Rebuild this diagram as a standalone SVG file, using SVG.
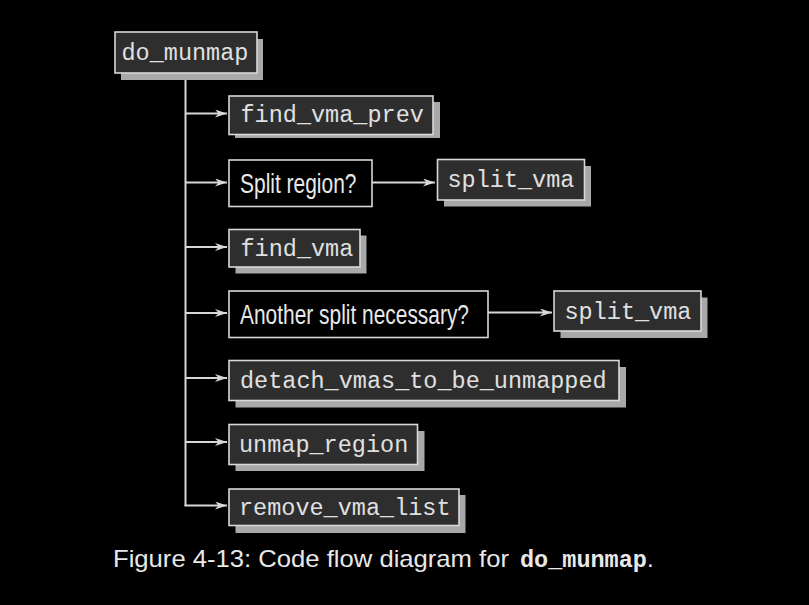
<svg xmlns="http://www.w3.org/2000/svg" width="809" height="605" viewBox="0 0 809 605">
<style>
.shadow{fill:#a8a8a8}
.box{fill:#2e2e2e;stroke:#d8d8d8;stroke-width:1.6}
.q{fill:#000;stroke:#d8d8d8;stroke-width:1.6}
.mono{font-family:"Liberation Mono","Courier New",monospace;font-size:23.5px;fill:#e0e0e0}
.sans{font-family:"Liberation Sans Narrow","Liberation Sans",Arial,sans-serif;font-size:27px;fill:#e8e8e8}
.conn{stroke:#d8d8d8;stroke-width:2;fill:none}
.cap{font-family:"Liberation Sans Narrow","Liberation Sans",Arial,sans-serif;font-size:24px;fill:#e8e8e8}
.capm{font-family:"Liberation Mono","Courier New",monospace;font-size:23.5px;font-weight:bold;fill:#e8e8e8}
</style>
<defs>
<marker id="ah" markerUnits="userSpaceOnUse" markerWidth="13" markerHeight="9" refX="12" refY="4" orient="auto">
<path d="M0,0 L12,4 L0,8 L3.5,4 z" fill="#d8d8d8"/>
</marker>
</defs>
<rect width="809" height="605" fill="#000"/>

<g id="connectors">
<path class="conn" d="M185.5,73 V506"/>
<path class="conn" d="M185.5,113.5 H227" marker-end="url(#ah)"/>
<path class="conn" d="M185.5,182.5 H227" marker-end="url(#ah)"/>
<path class="conn" d="M185.5,247 H227" marker-end="url(#ah)"/>
<path class="conn" d="M185.5,313 H227" marker-end="url(#ah)"/>
<path class="conn" d="M185.5,378 H227" marker-end="url(#ah)"/>
<path class="conn" d="M185.5,442 H227" marker-end="url(#ah)"/>
<path class="conn" d="M184.5,505.5 H227" marker-end="url(#ah)"/>
<path class="conn" d="M372,182.5 H435" marker-end="url(#ah)"/>
<path class="conn" d="M488,312.5 H552" marker-end="url(#ah)"/>
</g>

<g id="do_munmap">
<rect class="shadow" x="121" y="39" width="142" height="41"/>
<rect class="box" x="115" y="32" width="142" height="41"/>
<text class="mono" x="121.5" y="60">do_munmap</text>
</g>

<g id="find_vma_prev">
<rect class="shadow" x="235" y="102" width="205" height="36"/>
<rect class="box" x="229" y="96" width="204" height="38.5"/>
<text class="mono" x="240.5" y="122">find_vma_prev</text>
</g>

<g id="split_region">
<rect class="q" x="229" y="160" width="143" height="46.5"/>
<text class="sans" x="240" y="192.5" textLength="116.5" lengthAdjust="spacingAndGlyphs">Split region?</text>
</g>

<g id="split_vma_1">
<rect class="shadow" x="444" y="166" width="147" height="40.5"/>
<rect class="box" x="437.5" y="159.5" width="147" height="40.5"/>
<text class="mono" x="447.5" y="187">split_vma</text>
</g>

<g id="find_vma">
<rect class="shadow" x="235.5" y="235.5" width="131" height="38"/>
<rect class="box" x="229" y="229.5" width="131" height="37.5"/>
<text class="mono" x="240.5" y="256">find_vma</text>
</g>

<g id="another_split">
<rect class="q" x="229" y="291" width="259" height="46.5"/>
<text class="sans" x="240" y="323.5" textLength="229" lengthAdjust="spacingAndGlyphs">Another split necessary?</text>
</g>

<g id="split_vma_2">
<rect class="shadow" x="560.5" y="297.5" width="147" height="40.5"/>
<rect class="box" x="554" y="291" width="147" height="40"/>
<text class="mono" x="564.5" y="318.5">split_vma</text>
</g>

<g id="detach_vmas_to_be_unmapped">
<rect class="shadow" x="235.5" y="367" width="390.5" height="40.5"/>
<rect class="box" x="229" y="360.5" width="390" height="40"/>
<text class="mono" x="240" y="388">detach_vmas_to_be_unmapped</text>
</g>

<g id="unmap_region">
<rect class="shadow" x="235.5" y="431" width="189" height="40"/>
<rect class="box" x="229" y="424.5" width="188.5" height="40"/>
<text class="mono" x="239" y="452">unmap_region</text>
</g>

<g id="remove_vma_list">
<rect class="shadow" x="235.5" y="495" width="230" height="38"/>
<rect class="box" x="229" y="489" width="230" height="36.5"/>
<text class="mono" x="239" y="515">remove_vma_list</text>
</g>

<g id="caption">
<text class="cap" x="113" y="567" textLength="396" lengthAdjust="spacingAndGlyphs">Figure 4-13: Code flow diagram for</text>
<text class="capm" x="520" y="567">do_munmap</text>
<text class="cap" x="647" y="567">.</text>
</g>
</svg>
